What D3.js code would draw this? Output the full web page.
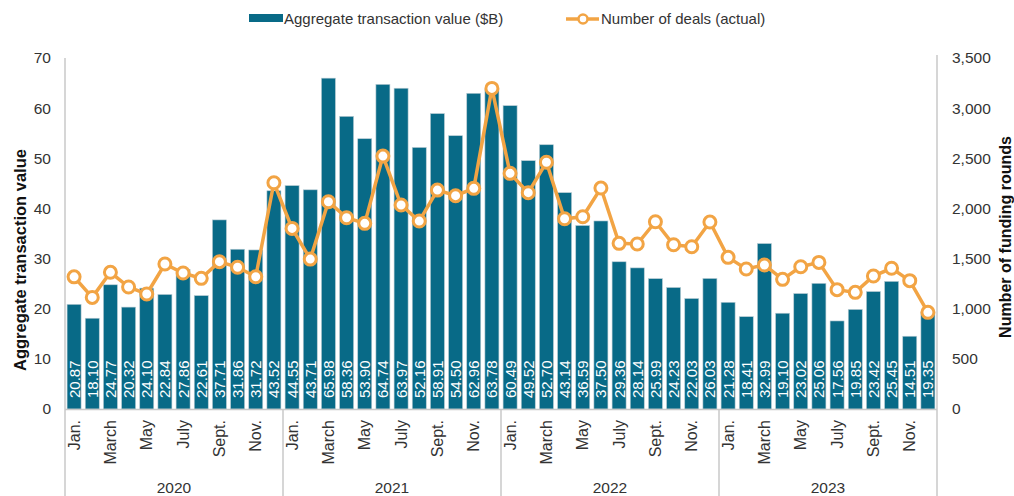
<!DOCTYPE html>
<html>
<head>
<meta charset="utf-8">
<script src="https://cdn.jsdelivr.net/npm/d3@7"></script>
<style>
  body { margin: 0; background: #fff; }
  svg text { font-family: "Liberation Sans", Arial, sans-serif; }
</style>
</head>
<body>
<svg id="chart" width="1014" height="496"></svg>
<script>
// data
var years = ["2020", "2021", "2022", "2023"];
var monthNames = ["Jan.", "Feb.", "March", "April", "May", "June", "July", "Aug.", "Sept.", "Oct.", "Nov.", "Dec."];
var valueB = [
  20.87, 18.10, 24.77, 20.32, 24.10, 22.84, 27.86, 22.61, 37.71, 31.86, 31.72, 43.52,
  44.55, 43.71, 65.98, 58.36, 53.90, 64.74, 63.97, 52.16, 58.91, 54.50, 62.96, 63.78,
  60.49, 49.52, 52.70, 43.14, 36.59, 37.50, 29.36, 28.14, 25.99, 24.23, 22.03, 26.03,
  21.28, 18.41, 32.99, 19.10, 23.02, 25.06, 17.56, 19.85, 23.42, 25.45, 14.51, 19.35
];
var deals = [
  1318, 1113, 1363, 1216, 1147, 1446, 1356, 1303, 1469, 1413, 1319, 2256,
  1801, 1495, 2067, 1907, 1851, 2522, 2034, 1874, 2183, 2127, 2200, 3197,
  2350, 2157, 2460, 1897, 1917, 2203, 1652, 1645, 1867, 1638, 1618, 1864,
  1512, 1396, 1436, 1293, 1419, 1462, 1190, 1163, 1326, 1403, 1280, 964
];
var leftTicks = [0, 10, 20, 30, 40, 50, 60, 70];
var rightTicks = [0, 500, 1000, 1500, 2000, 2500, 3000, 3500];

var months = [];
years.forEach(function(y) {
  monthNames.forEach(function(m, i) { months.push({ key: y + "-" + i, year: y, m: i, name: m }); });
});

var svg = d3.select("#chart");
var plotLeft = 65, plotRight = 937, plotTop = 58, base = 409, plotBottom = 496;
var barColor = "#086a87", lineColor = "#f2a444", textColor = "#333";

var x = d3.scaleBand()
  .domain(months.map(function(d) { return d.key; }))
  .range([plotLeft, plotRight])
  .paddingInner(0.23)
  .paddingOuter(0.115);

var yL = d3.scaleLinear().domain([0, 70]).range([base, plotTop]);
var yR = d3.scaleLinear().domain([0, 3500]).range([base, plotTop]);

// bars
svg.append("g").selectAll("rect")
  .data(valueB)
  .enter().append("rect")
  .attr("x", function(d, i) { return x(months[i].key); })
  .attr("y", function(d) { return yL(d); })
  .attr("width", x.bandwidth())
  .attr("height", function(d) { return base - yL(d); })
  .attr("fill", barColor)
  .attr("stroke", "#b8cbd3")
  .attr("stroke-width", 0.6);

// bar labels
svg.append("g").selectAll("text")
  .data(valueB)
  .enter().append("text")
  .attr("transform", function(d, i) {
    return "translate(" + (x(months[i].key) + x.bandwidth() / 2 + 5.5) + "," + 398 + ") rotate(-90)";
  })
  .attr("fill", "#fff")
  .attr("font-size", 15)
  .text(function(d) { return d.toFixed(2); });

// axes lines
var axisColor = "#c8c8c8";
svg.append("line").attr("x1", plotLeft).attr("x2", plotLeft).attr("y1", plotTop).attr("y2", plotBottom)
  .attr("stroke", axisColor).attr("stroke-width", 1.5);
svg.append("line").attr("x1", plotRight).attr("x2", plotRight).attr("y1", plotTop - 3).attr("y2", plotBottom)
  .attr("stroke", axisColor).attr("stroke-width", 1.5);
svg.append("line").attr("x1", plotLeft).attr("x2", plotRight).attr("y1", base + 0.5).attr("y2", base + 0.5)
  .attr("stroke", axisColor).attr("stroke-width", 1.5);

// year separators
years.slice(1).forEach(function(y) {
  var xs = x(y + "-0") - x.step() * x.paddingInner() / 2;
  svg.append("line").attr("x1", xs).attr("x2", xs).attr("y1", base).attr("y2", plotBottom)
    .attr("stroke", axisColor).attr("stroke-width", 1.5);
});

// left axis
var axL = svg.append("g")
  .attr("transform", "translate(" + (plotLeft - 14) + ",0)")
  .call(d3.axisLeft(yL).tickValues(leftTicks).tickSize(0).tickPadding(0));
axL.select(".domain").remove();
axL.selectAll("text").attr("font-size", 15.5).attr("fill", textColor).attr("font-family", "Liberation Sans, Arial, sans-serif");

// right axis
var axR = svg.append("g")
  .attr("transform", "translate(" + (plotRight + 15) + ",0)")
  .call(d3.axisRight(yR).tickValues(rightTicks).tickSize(0).tickPadding(0).tickFormat(d3.format(",")));
axR.select(".domain").remove();
axR.selectAll("text").attr("font-size", 15.5).attr("fill", textColor).attr("font-family", "Liberation Sans, Arial, sans-serif");

// axis titles
svg.append("text")
  .attr("transform", "translate(26," + 260 + ") rotate(-90)")
  .attr("text-anchor", "middle")
  .attr("font-size", 16.5)
  .attr("font-weight", "bold")
  .attr("fill", "#111")
  .text("Aggregate transaction value");

svg.append("text")
  .attr("transform", "translate(1011," + 237 + ") rotate(-90)")
  .attr("text-anchor", "middle")
  .attr("font-size", 16)
  .attr("font-weight", "bold")
  .attr("fill", "#111")
  .text("Number of funding rounds");

// month labels
svg.append("g").selectAll("text")
  .data(months.filter(function(d) { return d.m % 2 === 0; }))
  .enter().append("text")
  .attr("transform", function(d) {
    return "translate(" + (x(d.key) + x.bandwidth() / 2 + 5.5) + ",420) rotate(-90)";
  })
  .attr("text-anchor", "end")
  .attr("font-size", 16)
  .attr("fill", textColor)
  .text(function(d) { return d.name; });

// year labels
svg.append("g").selectAll("text")
  .data(years)
  .enter().append("text")
  .attr("x", function(y) { return (x(y + "-0") + x(y + "-11") + x.bandwidth()) / 2; })
  .attr("y", 493)
  .attr("text-anchor", "middle")
  .attr("font-size", 15.5)
  .attr("fill", textColor)
  .text(function(y) { return y; });

// line
var line = d3.line()
  .x(function(d, i) { return x(months[i].key) + x.bandwidth() / 2; })
  .y(function(d) { return yR(d); });

svg.append("path")
  .datum(deals)
  .attr("d", line)
  .attr("fill", "none")
  .attr("stroke", lineColor)
  .attr("stroke-width", 3.5);

svg.append("g").selectAll("circle")
  .data(deals)
  .enter().append("circle")
  .attr("cx", function(d, i) { return x(months[i].key) + x.bandwidth() / 2; })
  .attr("cy", function(d) { return yR(d); })
  .attr("r", 6)
  .attr("fill", "#fff")
  .attr("stroke", lineColor)
  .attr("stroke-width", 3);

// legend
var lg = svg.append("g");
lg.append("rect").attr("x", 249).attr("y", 14).attr("width", 34).attr("height", 8).attr("fill", barColor);
lg.append("text").attr("x", 284).attr("y", 24).attr("font-size", 15).attr("fill", textColor)
  .text("Aggregate transaction value ($B)");
lg.append("line").attr("x1", 566).attr("x2", 599).attr("y1", 19).attr("y2", 19)
  .attr("stroke", lineColor).attr("stroke-width", 3.5);
lg.append("circle").attr("cx", 583).attr("cy", 19).attr("r", 4.5)
  .attr("fill", "#fff").attr("stroke", lineColor).attr("stroke-width", 2.5);
lg.append("text").attr("x", 601).attr("y", 24).attr("font-size", 15).attr("fill", textColor)
  .text("Number of deals (actual)");
</script>
</body>
</html>
